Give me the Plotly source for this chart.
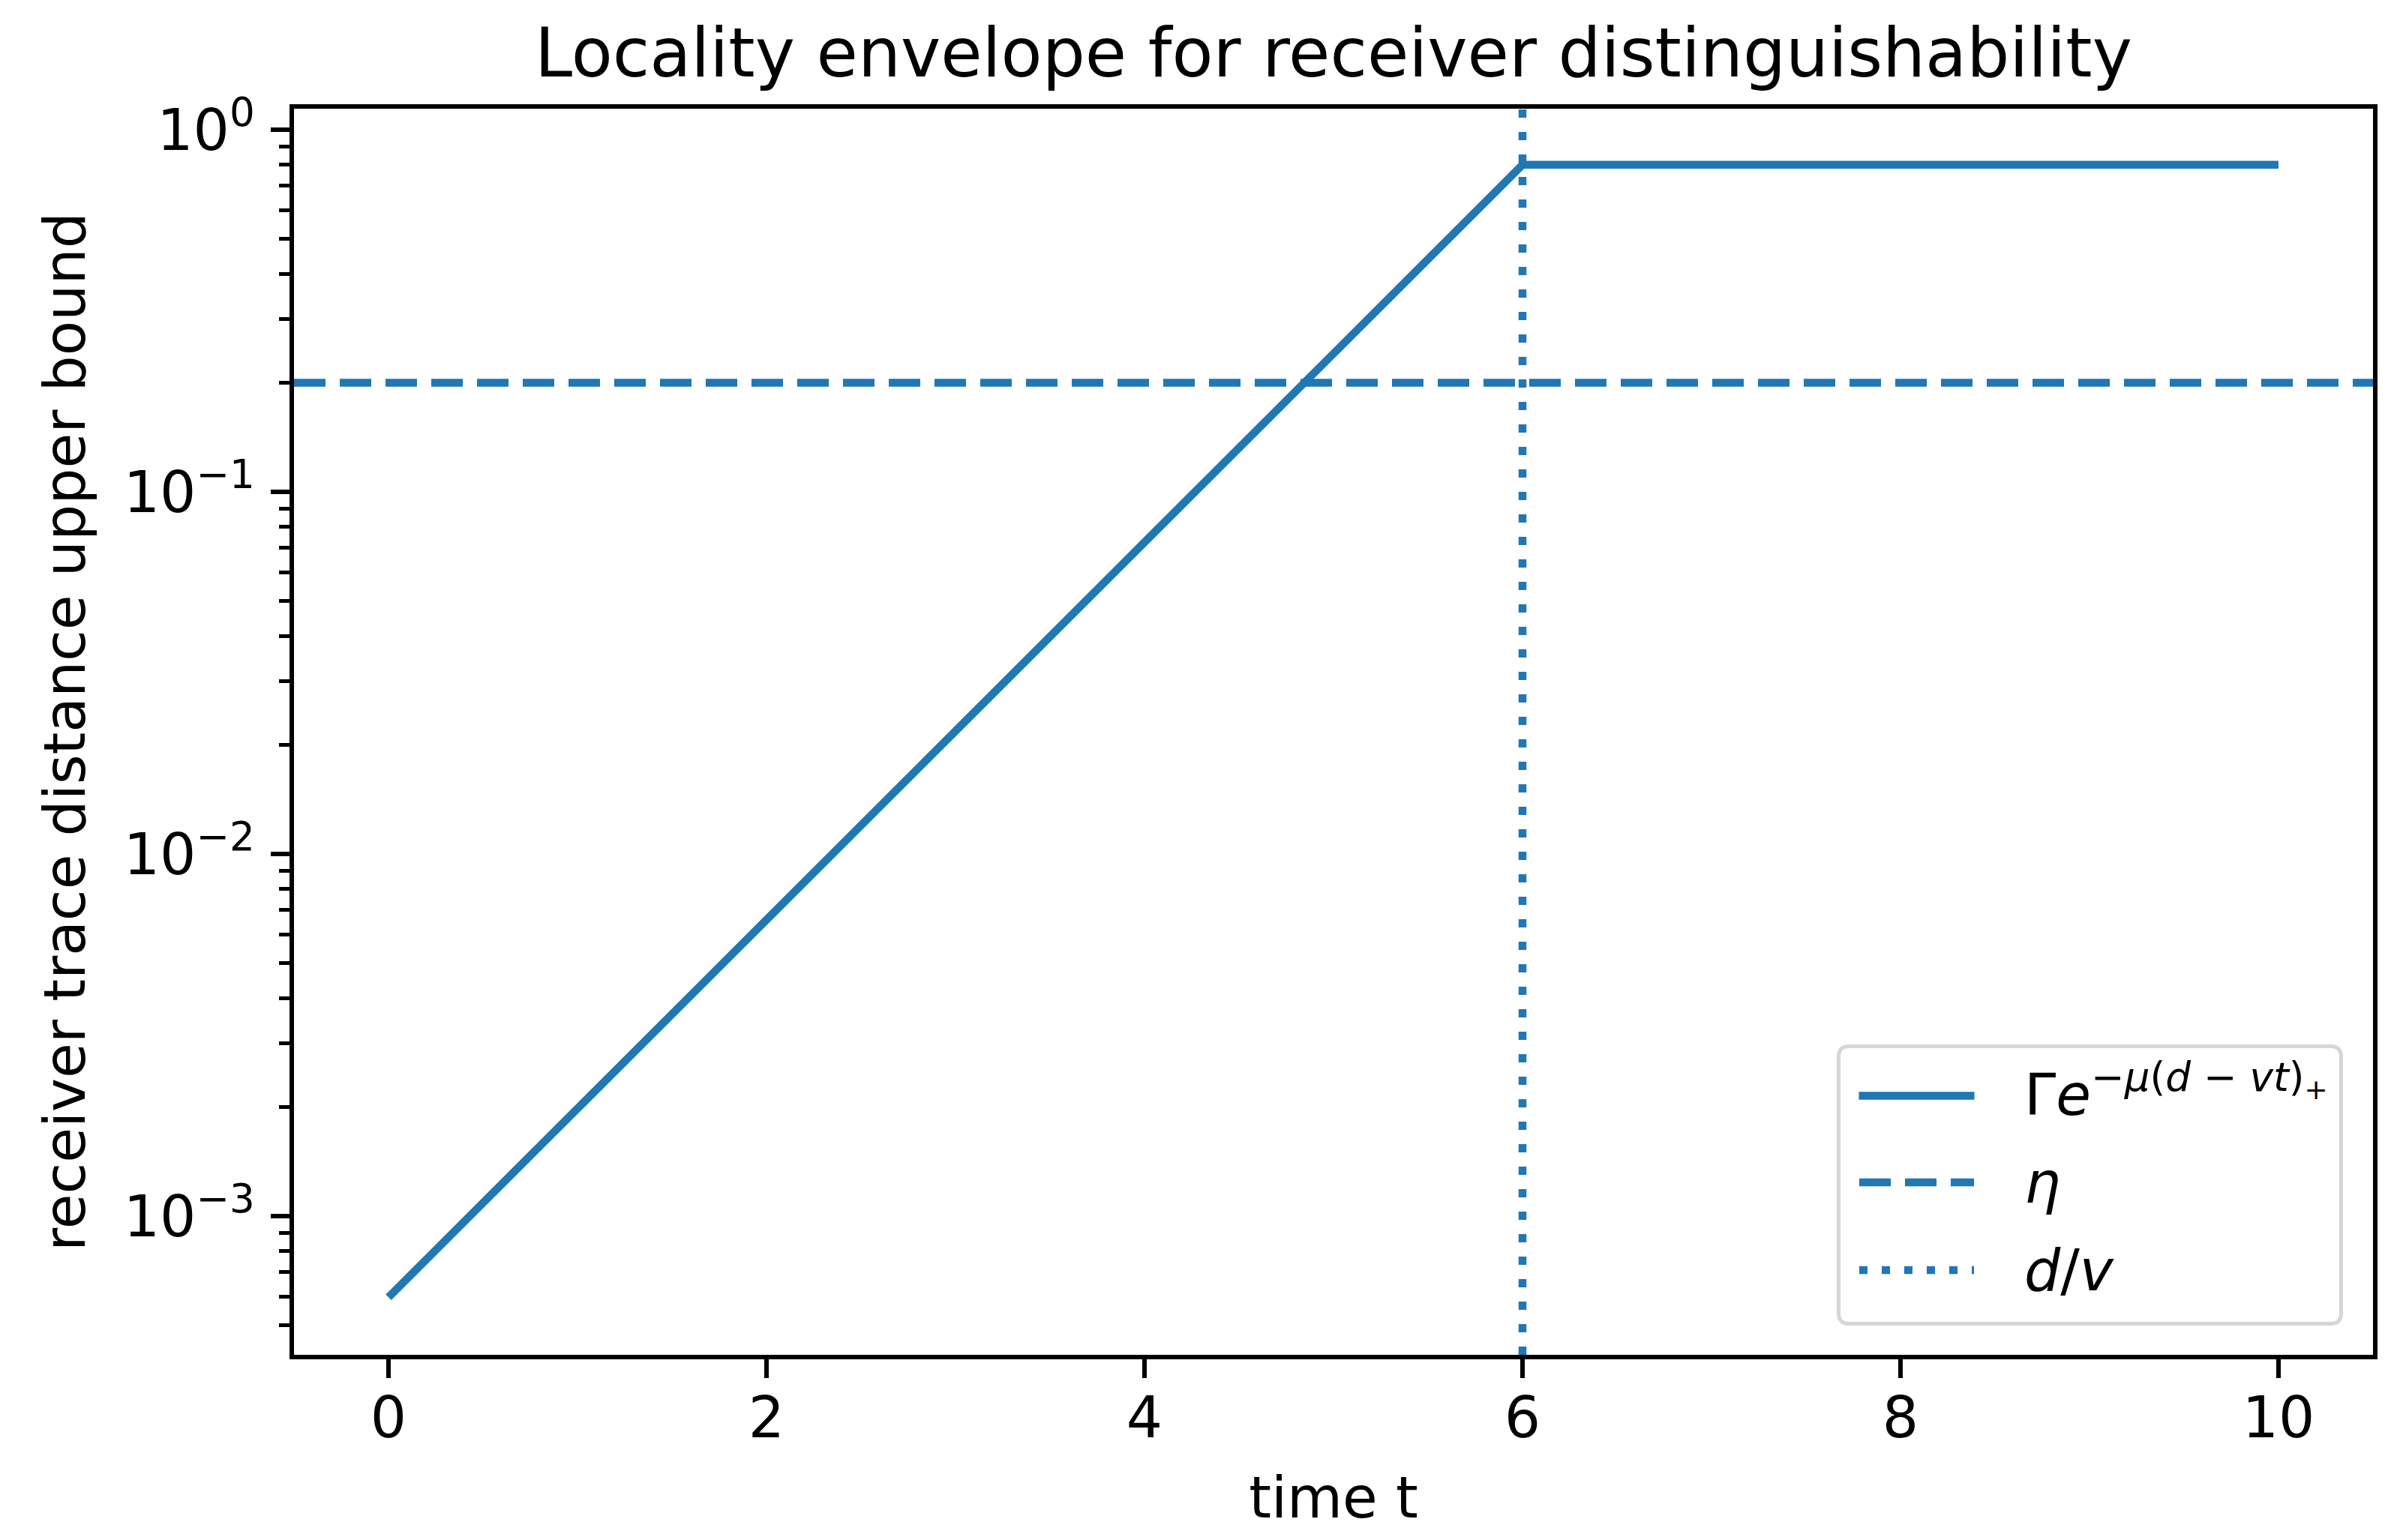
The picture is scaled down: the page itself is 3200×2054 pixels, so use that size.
import plotly.graph_objects as go

# ---- data ----
t_vals = [0, 1, 2, 3, 4, 5, 6, 7, 8, 9, 10]
envelope = [0.000597, 0.00198, 0.00658, 0.0219, 0.0726, 0.241, 0.8, 0.8, 0.8, 0.8, 0.8]
eta = 0.2
d_over_v = 6.0

x_range = [-0.5, 10.5]
y_range_log = [-3.383, 0.058]
x_ticks = [0, 2, 4, 6, 8, 10]
y_ticks = [1e-3, 1e-2, 1e-1, 1e0]
y_ticktext = ["10<sup>−3</sup>", "10<sup>−2</sup>", "10<sup>−1</sup>", "10<sup>0</sup>"]
y_minor = [m * 10.0 ** k for k in range(-4, 0) for m in range(2, 10)]

legend_labels = [
    "Γ<i>e</i><sup>−<i>μ</i>(<i>d</i> − <i>vt</i>)<sub>+</sub></sup>",
    "<i>η</i>",
    "<i>d</i>/<i>v</i>",
]

BLUE = "#1f77b4"
FONT = "DejaVu Sans"
W, H = 3200, 2054
ML, MR, MT, MB = 392, 36, 145, 247
PW, PH = W - ML - MR, H - MT - MB
LW = 10.5
DASH = "42px,19px"
DOT = "11px,19px"
FS = 76


def px(xp):
    return (xp - ML) / PW


def py(yp):
    return (H - MB - yp) / PH


fig = go.Figure()
fig.add_trace(go.Scatter(
    x=t_vals, y=envelope, mode="lines",
    line=dict(color=BLUE, width=LW),
    name=legend_labels[0], showlegend=False,
))

fig.add_shape(type="line", xref="x domain", yref="y", x0=0, x1=1, y0=eta, y1=eta,
              line=dict(color=BLUE, width=LW, dash=DASH), layer="above")
fig.add_shape(type="line", xref="x", yref="y domain", x0=d_over_v, x1=d_over_v, y0=0, y1=1,
              line=dict(color=BLUE, width=LW, dash=DOT), layer="above")

# ---- legend box (matplotlib-style, rounded corners) ----
bx0, bx1, by0, by1 = 2451.5, 3121.5, 1395.5, 1765.5
r = 14
rx, ry = r / PW, r / PH
X0, X1, Y0, Y1 = px(bx0), px(bx1), py(by1), py(by0)  # Y0 bottom, Y1 top (paper)
path = (
    f"M {X0 + rx},{Y1} L {X1 - rx},{Y1} Q {X1},{Y1} {X1},{Y1 - ry} "
    f"L {X1},{Y0 + ry} Q {X1},{Y0} {X1 - rx},{Y0} "
    f"L {X0 + rx},{Y0} Q {X0},{Y0} {X0},{Y0 + ry} "
    f"L {X0},{Y1 - ry} Q {X0},{Y1} {X0 + rx},{Y1} Z"
)
fig.add_shape(type="path", xref="paper", yref="paper", path=path,
              line=dict(color="#d6d6d6", width=5), fillcolor="rgba(255,255,255,0.8)",
              layer="above")

item_y = [1461.5, 1577, 1694]
styles = [dict(dash="solid", x0=2478.5, x1=2632.5),
          dict(dash=DASH, x0=2479, x1=2632),
          dict(dash=DOT, x0=2479, x1=2632)]
for yy, st in zip(item_y, styles):
    fig.add_shape(type="line", xref="paper", yref="paper",
                  x0=px(st["x0"]), x1=px(st["x1"]), y0=py(yy), y1=py(yy),
                  line=dict(color=BLUE, width=LW, dash=st["dash"]), layer="above")

text_dy = [6, 0, 0]
for yy, lab, dy in zip(item_y, legend_labels, text_dy):
    fig.add_annotation(xref="paper", yref="paper", x=px(2697), y=py(yy - dy),
                       xanchor="left", yanchor="middle", showarrow=False,
                       text=lab, font=dict(family=FONT, size=FS, color="black"))

axis_common = dict(
    showline=True, linecolor="black", linewidth=6, mirror=True,
    ticks="outside", ticklen=25, tickwidth=6, tickcolor="black",
    showgrid=False, zeroline=False,
    tickfont=dict(family=FONT, size=FS, color="black"),
)

fig.update_xaxes(
    range=x_range, tickmode="array", tickvals=x_ticks,
    ticktext=[str(v) for v in x_ticks], ticklabelstandoff=-12,
    title=dict(text="time t", font=dict(family=FONT, size=FS, color="black"), standoff=39),
    **axis_common,
)
fig.update_yaxes(
    type="log", range=y_range_log, tickmode="array", tickvals=y_ticks, ticktext=y_ticktext,
    ticklabelstandoff=6,
    minor=dict(tickmode="array", tickvals=y_minor, ticks="outside", ticklen=14,
               tickwidth=4.5, tickcolor="black", showgrid=False),
    title=dict(text="receiver trace distance upper bound",
               font=dict(family=FONT, size=FS, color="black"), standoff=28),
    **axis_common,
)

fig.update_layout(
    width=W, height=H,
    margin=dict(l=ML, r=MR, t=MT, b=MB, autoexpand=False),
    paper_bgcolor="white", plot_bgcolor="white",
    title=dict(text="Locality envelope for receiver distinguishability",
               font=dict(family=FONT, size=90, color="black"),
               x=0.5, xref="paper", xanchor="center",
               y=1 - 70 / H, yref="container", yanchor="middle"),
    font=dict(family=FONT, size=FS, color="black"),
    showlegend=False,
)

fig.write_html(
    "out.html",
    config={"displayModeBar": False},
    post_script="document.body.style.margin='0';document.body.style.padding='0';",
)
